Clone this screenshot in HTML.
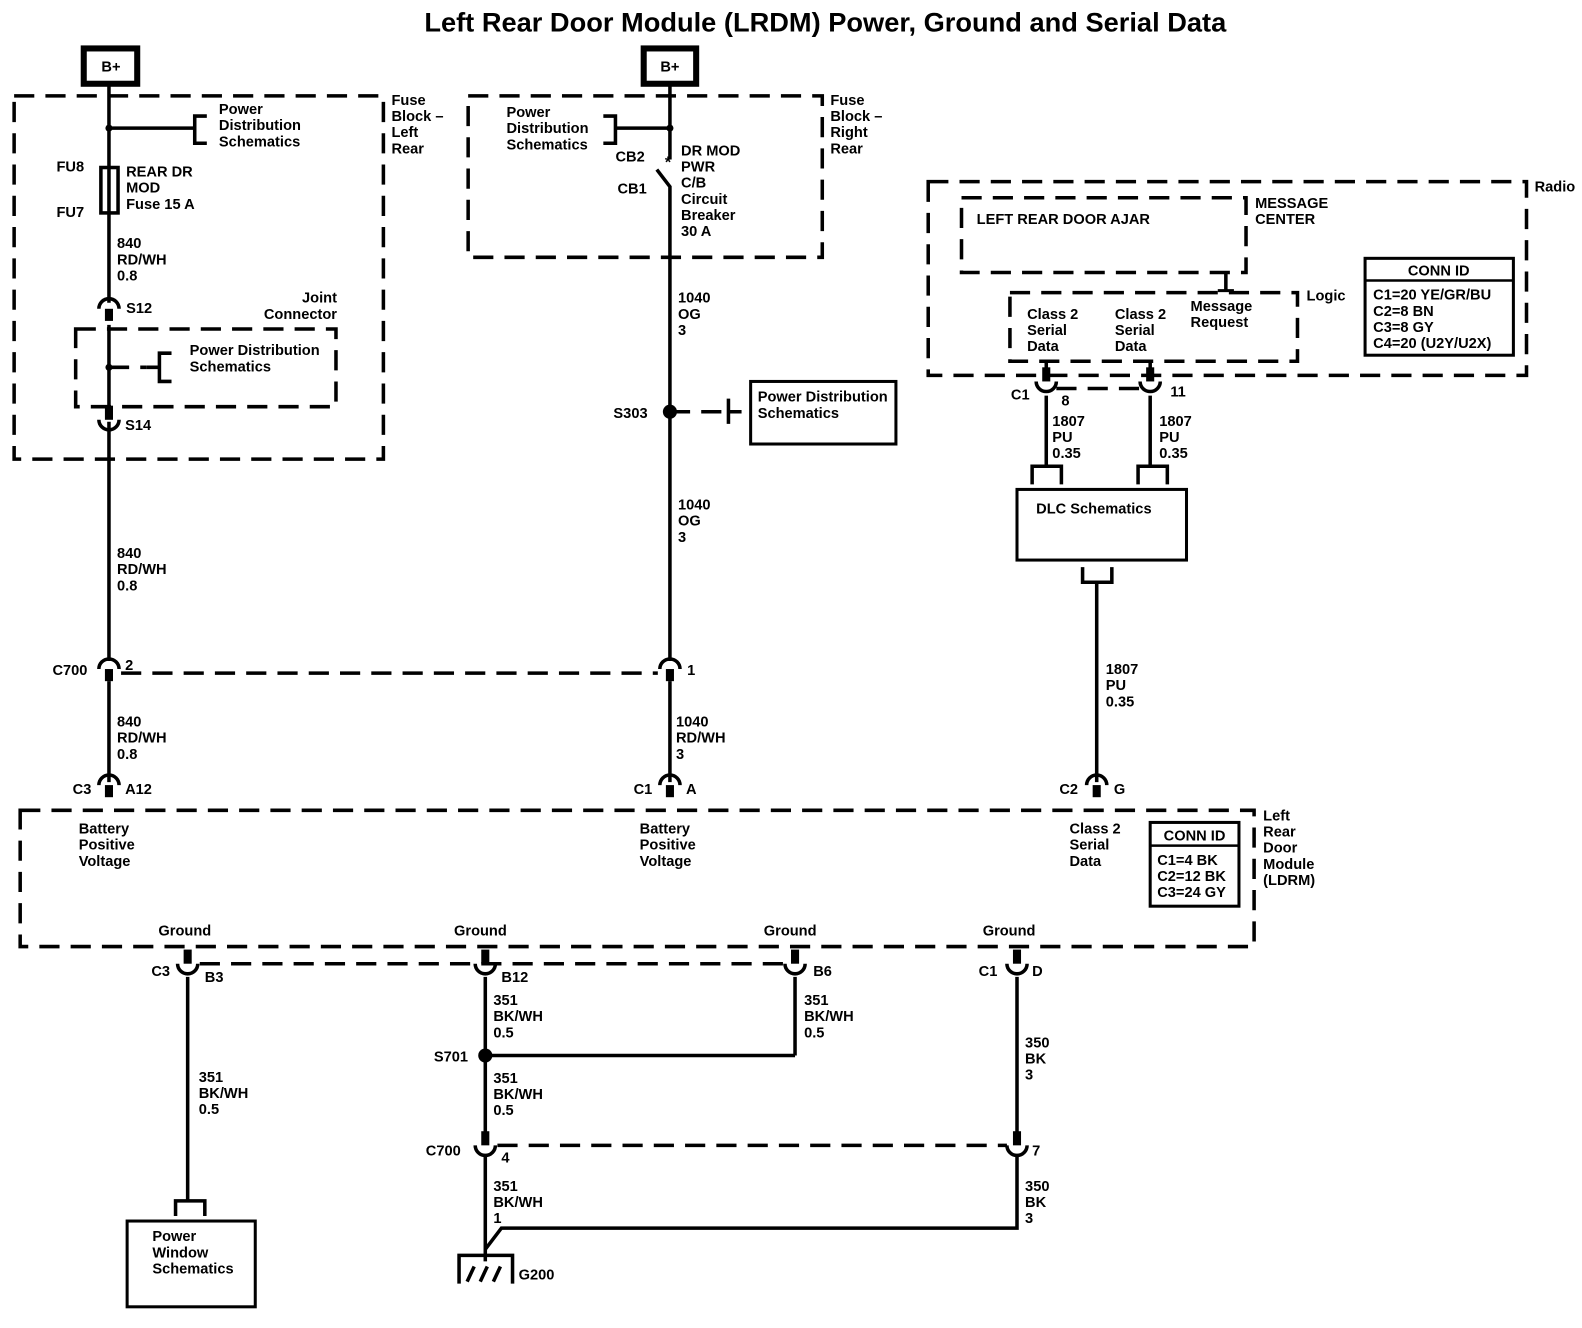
<!DOCTYPE html>
<html><head><meta charset="utf-8"><style>
html,body{margin:0;padding:0;background:#fff;}
svg{display:block;}
text{font-family:"Liberation Sans",Arial,sans-serif;font-weight:bold;font-size:14.5px;fill:#000;}
</style></head><body>
<svg width="1582" height="1328" viewBox="0 0 1568 1316" preserveAspectRatio="none" xmlns="http://www.w3.org/2000/svg">
<defs>
<g id="cap"><path d="M-10 8 A10 10 0 0 1 10 8" fill="none" stroke="#000" stroke-width="3.5"/><rect x="-4" y="8" width="8" height="12" fill="#000"/></g>
<g id="cup"><rect x="-4" y="-14" width="8" height="14" fill="#000"/><path d="M-10 0 A10 10 0 0 0 10 0" fill="none" stroke="#000" stroke-width="3.5"/></g>
</defs>
<text x="818" y="31" text-anchor="middle" style="font-size:27px">Left Rear Door Module (LRDM) Power, Ground and Serial Data</text>

<g fill="none" stroke="#000" stroke-width="3.5" stroke-dasharray="20 11">
<rect x="14" y="95" width="366" height="360"/>
<rect x="75" y="326" width="258" height="77"/>
<rect x="464" y="95" width="351" height="160"/>
<rect x="920" y="180" width="593" height="192"/>
<rect x="953" y="196" width="282" height="74"/>
<rect x="1001" y="290" width="285" height="68"/>
<rect x="20" y="803" width="1223" height="135"/>
<line x1="120" y1="667" x2="652" y2="667"/>
<line x1="1047" y1="385" x2="1132" y2="385"/>
<line x1="198" y1="955" x2="776" y2="955"/>
<line x1="493" y1="1135" x2="998" y2="1135"/>
<line x1="108" y1="364" x2="145" y2="364"/>
<line x1="664" y1="408" x2="722" y2="408"/>
</g>

<g fill="none" stroke="#000" stroke-width="3.5">
<rect x="83" y="48" width="53" height="35" stroke-width="6"/>
<rect x="638" y="48" width="52" height="35" stroke-width="6"/>
<line x1="108" y1="83" x2="108" y2="300"/>
<line x1="108" y1="322" x2="108" y2="412"/>
<line x1="108" y1="418" x2="108" y2="655"/>
<line x1="108" y1="675" x2="108" y2="775"/>
<line x1="108" y1="127" x2="193" y2="127"/>
<path d="M205 115 H193 V142 H205"/>
<rect x="100" y="166" width="17" height="45"/>
<path d="M170 350 H158 V378 H170 M145 364 H158"/>
<line x1="664" y1="83" x2="664" y2="158"/>
<line x1="610" y1="127" x2="664" y2="127"/>
<path d="M598 115 H610 V142 H598"/>
<path d="M651 168 L664 185 V655"/>
<line x1="664" y1="675" x2="664" y2="775"/>
<path d="M722 395 V420 M722 408 H735"/>
<rect x="744" y="378" width="144" height="62" stroke-width="3"/>
<line x1="1215" y1="270" x2="1215" y2="288"/>
<line x1="1207" y1="288" x2="1223" y2="288" stroke-width="3"/>
<line x1="1037" y1="358" x2="1037" y2="372"/>
<line x1="1140" y1="358" x2="1140" y2="372"/>
<line x1="1037" y1="392" x2="1037" y2="462"/>
<line x1="1140" y1="392" x2="1140" y2="462"/>
<path d="M1023 480 V462 H1052 V480"/>
<path d="M1128 480 V462 H1157 V480"/>
<rect x="1008" y="485" width="168" height="70" stroke-width="3"/>
<path d="M1073 562 V577 H1102 V562"/>
<line x1="1087" y1="577" x2="1087" y2="775"/>
<rect x="1353" y="256" width="147" height="96" stroke-width="3"/>
<line x1="1353" y1="278" x2="1500" y2="278" stroke-width="2.5"/>
<rect x="1140" y="815" width="88" height="83" stroke-width="3"/>
<line x1="1140" y1="838" x2="1228" y2="838" stroke-width="2.5"/>
<line x1="186" y1="968" x2="186" y2="1190"/>
<path d="M174 1205 V1190 H203 V1205"/>
<rect x="126" y="1210" width="127" height="85" stroke-width="3"/>
<line x1="481" y1="968" x2="481" y2="1124"/>
<line x1="481" y1="1046" x2="788" y2="1046"/>
<line x1="788" y1="968" x2="788" y2="1046"/>
<line x1="481" y1="1146" x2="481" y2="1250"/>
<line x1="1008" y1="968" x2="1008" y2="1124"/>
<path d="M1008 1146 V1217 H497 L481 1238"/>
<path d="M455 1272 V1244 H508 V1272"/>
<path d="M463 1270 L470 1255 M476 1270 L483 1255 M489 1270 L496 1255"/>
</g>
<g fill="#000">
<circle cx="108" cy="127" r="3.5"/><circle cx="108" cy="364" r="3.5"/><circle cx="664" cy="127" r="3.5"/>
<circle cx="664" cy="408" r="7"/><circle cx="481" cy="1046" r="7"/>
</g>
<text x="659" y="166" style="font-size:16px">*</text>
<use href="#cap" x="108" y="298"/>
<use href="#cup" x="108" y="416"/>
<use href="#cap" x="108" y="655"/>
<use href="#cap" x="664" y="655"/>
<use href="#cap" x="108" y="770"/>
<use href="#cap" x="664" y="770"/>
<use href="#cap" x="1087" y="770"/>
<use href="#cup" x="1037" y="378"/>
<use href="#cup" x="1140" y="378"/>
<use href="#cup" x="186" y="955"/>
<use href="#cup" x="481" y="955"/>
<use href="#cup" x="788" y="955"/>
<use href="#cup" x="1008" y="955"/>
<use href="#cup" x="481" y="1135"/>
<use href="#cup" x="1008" y="1135"/>

<g>
<text x="110" y="71" text-anchor="middle">B+</text>
<text x="664" y="71" text-anchor="middle">B+</text>
<text x="388" y="104">Fuse<tspan x="388" dy="16">Block –</tspan><tspan x="388" dy="16">Left</tspan><tspan x="388" dy="16">Rear</tspan></text>
<text x="217" y="113">Power<tspan x="217" dy="16">Distribution</tspan><tspan x="217" dy="16">Schematics</tspan></text>
<text x="56" y="170">FU8</text><text x="56" y="215">FU7</text>
<text x="125" y="175">REAR DR<tspan x="125" dy="16">MOD</tspan><tspan x="125" dy="16">Fuse 15 A</tspan></text>
<text x="116" y="246">840<tspan x="116" dy="16">RD/WH</tspan><tspan x="116" dy="16">0.8</tspan></text>
<text x="125" y="310">S12</text>
<text x="334" y="300" text-anchor="end">Joint<tspan x="334" dy="16">Connector</tspan></text>
<text x="188" y="352">Power Distribution<tspan x="188" dy="16">Schematics</tspan></text>
<text x="124" y="426">S14</text>
<text x="116" y="553">840<tspan x="116" dy="16">RD/WH</tspan><tspan x="116" dy="16">0.8</tspan></text>
<text x="52" y="669">C700</text><text x="124" y="664">2</text>
<text x="116" y="720">840<tspan x="116" dy="16">RD/WH</tspan><tspan x="116" dy="16">0.8</tspan></text>
<text x="72" y="787">C3</text><text x="124" y="787">A12</text>

<text x="823" y="104">Fuse<tspan x="823" dy="16">Block –</tspan><tspan x="823" dy="16">Right</tspan><tspan x="823" dy="16">Rear</tspan></text>
<text x="502" y="116">Power<tspan x="502" dy="16">Distribution</tspan><tspan x="502" dy="16">Schematics</tspan></text>
<text x="610" y="160">CB2</text><text x="612" y="192">CB1</text>
<text x="675" y="154">DR MOD<tspan x="675" dy="16">PWR</tspan><tspan x="675" dy="16">C/B</tspan><tspan x="675" dy="16">Circuit</tspan><tspan x="675" dy="16">Breaker</tspan><tspan x="675" dy="16">30 A</tspan></text>
<text x="672" y="300">1040<tspan x="672" dy="16">OG</tspan><tspan x="672" dy="16">3</tspan></text>
<text x="608" y="414">S303</text>
<text x="751" y="398">Power Distribution<tspan x="751" dy="16">Schematics</tspan></text>
<text x="672" y="505">1040<tspan x="672" dy="16">OG</tspan><tspan x="672" dy="16">3</tspan></text>
<text x="681" y="669">1</text>
<text x="670" y="720">1040<tspan x="670" dy="16">RD/WH</tspan><tspan x="670" dy="16">3</tspan></text>
<text x="628" y="787">C1</text><text x="680" y="787">A</text>

<text x="1521" y="190">Radio</text>
<text x="968" y="222">LEFT REAR DOOR AJAR</text>
<text x="1244" y="206">MESSAGE<tspan x="1244" dy="16">CENTER</tspan></text>
<text x="1295" y="298">Logic</text>
<text x="1018" y="316">Class 2<tspan x="1018" dy="16">Serial</tspan><tspan x="1018" dy="16">Data</tspan></text>
<text x="1105" y="316">Class 2<tspan x="1105" dy="16">Serial</tspan><tspan x="1105" dy="16">Data</tspan></text>
<text x="1180" y="308">Message<tspan x="1180" dy="16">Request</tspan></text>
<text x="1426" y="273" text-anchor="middle">CONN ID</text>
<text x="1361" y="297">C1=20 YE/GR/BU<tspan x="1361" dy="16">C2=8 BN</tspan><tspan x="1361" dy="16">C3=8 GY</tspan><tspan x="1361" dy="16">C4=20 (U2Y/U2X)</tspan></text>
<text x="1002" y="396">C1</text><text x="1052" y="402">8</text><text x="1160" y="393">11</text>
<text x="1043" y="422">1807<tspan x="1043" dy="16">PU</tspan><tspan x="1043" dy="16">0.35</tspan></text>
<text x="1149" y="422">1807<tspan x="1149" dy="16">PU</tspan><tspan x="1149" dy="16">0.35</tspan></text>
<text x="1027" y="509">DLC Schematics</text>
<text x="1096" y="668">1807<tspan x="1096" dy="16">PU</tspan><tspan x="1096" dy="16">0.35</tspan></text>
<text x="1050" y="787">C2</text><text x="1104" y="787">G</text>

<text x="1252" y="813">Left<tspan x="1252" dy="16">Rear</tspan><tspan x="1252" dy="16">Door</tspan><tspan x="1252" dy="16">Module</tspan><tspan x="1252" dy="16">(LDRM)</tspan></text>
<text x="78" y="826">Battery<tspan x="78" dy="16">Positive</tspan><tspan x="78" dy="16">Voltage</tspan></text>
<text x="634" y="826">Battery<tspan x="634" dy="16">Positive</tspan><tspan x="634" dy="16">Voltage</tspan></text>
<text x="1060" y="826">Class 2<tspan x="1060" dy="16">Serial</tspan><tspan x="1060" dy="16">Data</tspan></text>
<text x="1184" y="833" text-anchor="middle">CONN ID</text>
<text x="1147" y="857">C1=4 BK<tspan x="1147" dy="16">C2=12 BK</tspan><tspan x="1147" dy="16">C3=24 GY</tspan></text>
<text x="157" y="927">Ground</text><text x="450" y="927">Ground</text><text x="757" y="927">Ground</text><text x="974" y="927">Ground</text>
<text x="150" y="967">C3</text><text x="203" y="973">B3</text>
<text x="497" y="973">B12</text><text x="806" y="967">B6</text>
<text x="970" y="967">C1</text><text x="1023" y="967">D</text>
<text x="489" y="996">351<tspan x="489" dy="16">BK/WH</tspan><tspan x="489" dy="16">0.5</tspan></text>
<text x="797" y="996">351<tspan x="797" dy="16">BK/WH</tspan><tspan x="797" dy="16">0.5</tspan></text>
<text x="430" y="1052">S701</text>
<text x="489" y="1073">351<tspan x="489" dy="16">BK/WH</tspan><tspan x="489" dy="16">0.5</tspan></text>
<text x="197" y="1072">351<tspan x="197" dy="16">BK/WH</tspan><tspan x="197" dy="16">0.5</tspan></text>
<text x="1016" y="1038">350<tspan x="1016" dy="16">BK</tspan><tspan x="1016" dy="16">3</tspan></text>
<text x="422" y="1145">C700</text><text x="497" y="1152">4</text><text x="1023" y="1145">7</text>
<text x="489" y="1180">351<tspan x="489" dy="16">BK/WH</tspan><tspan x="489" dy="16">1</tspan></text>
<text x="1016" y="1180">350<tspan x="1016" dy="16">BK</tspan><tspan x="1016" dy="16">3</tspan></text>
<text x="514" y="1268">G200</text>
<text x="151" y="1230">Power<tspan x="151" dy="16">Window</tspan><tspan x="151" dy="16">Schematics</tspan></text>
</g>
</svg>
</body></html>
